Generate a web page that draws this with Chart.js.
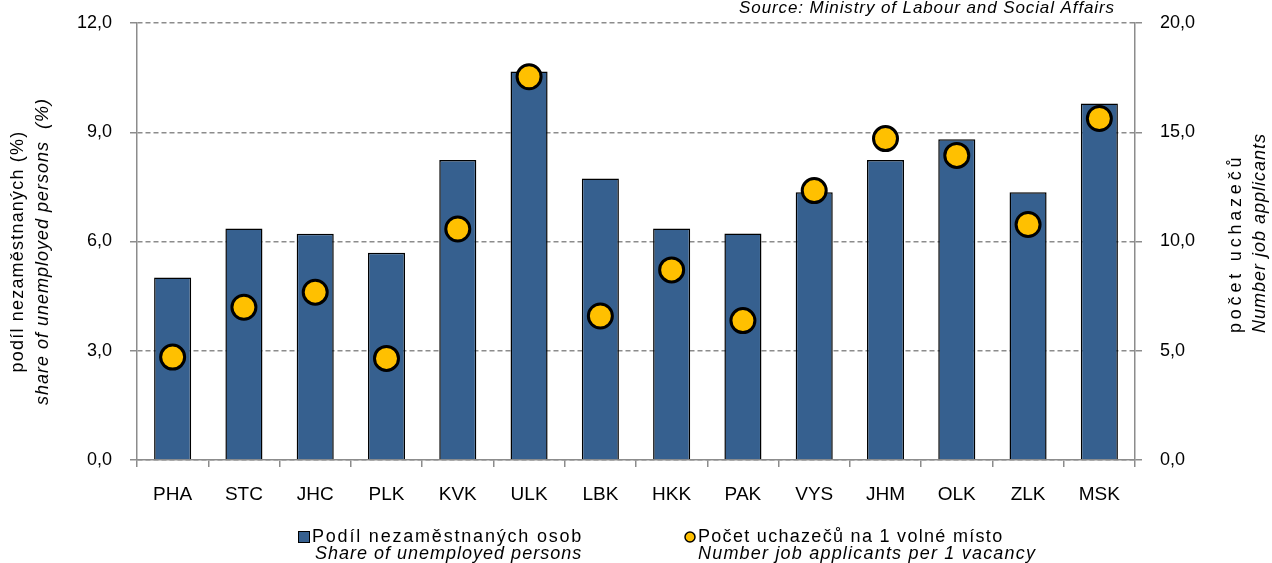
<!DOCTYPE html>
<html>
<head>
<meta charset="utf-8">
<script src="https://cdn.jsdelivr.net/npm/chart.js@4"></script>
<style>
html, body { margin: 0; padding: 0; background: #fff; }
#graf-box { width: 1272px; height: 563px; }
</style>
</head>
<body>
<div id="graf-box"><canvas id="graf"></canvas></div>
<script>
// data (kraje CR)
var kraje = ['PHA', 'STC', 'JHC', 'PLK', 'KVK', 'ULK', 'LBK', 'HKK', 'PAK', 'VYS', 'JHM', 'OLK', 'ZLK', 'MSK'];
var podilNezam = [5.01, 6.36, 6.21, 5.69, 8.24, 10.67, 7.73, 6.36, 6.22, 7.35, 8.24, 8.81, 7.35, 9.79];
var uchazeciNaMisto = [4.71, 6.99, 7.68, 4.65, 10.57, 17.54, 6.59, 8.70, 6.38, 12.33, 14.71, 13.94, 10.78, 15.63];

var osaLevo = [0, 12, 3];   // min, max, krok
var osaPravo = [0, 20, 5];

var pismo = '"Liberation Sans", Arial, sans-serif';
var seda = '#8c8c8c';

function formatCislo(v) {
	return Number(v).toFixed(1).replace('.', ',');
}

function text(ctx, t, x, y, font, mezera) {
	ctx.font = font;
	ctx.letterSpacing = mezera + 'px';
	ctx.fillText(t, x, y);
	ctx.letterSpacing = '0px';
}

// popisky os, zdroj a legenda
var popisky = {
	id: 'popisky',
	afterDraw: function(chart) {
		var ctx = chart.ctx;
		var a = chart.chartArea;
		ctx.save();
		ctx.fillStyle = '#000';

		// zdroj
		ctx.textAlign = 'right';
		ctx.textBaseline = 'middle';
		text(ctx, 'Source: Ministry of Labour and Social Affairs', a.right - 20, 8, 'italic 17px ' + pismo, 0.9);

		// leva osa
		ctx.save();
		ctx.translate(18, (a.top + a.bottom) / 2 + 10);
		ctx.rotate(-Math.PI / 2);
		ctx.textAlign = 'center';
		text(ctx, 'podíl nezaměstnaných (%)', 0, 0, '18px ' + pismo, 1.2);
		text(ctx, 'share of unemployed persons  (%)', 0, 25, 'italic 18px ' + pismo, 1);
		ctx.restore();

		// prava osa
		ctx.save();
		ctx.translate(1236, 333);
		ctx.rotate(-Math.PI / 2);
		ctx.textAlign = 'left';
		text(ctx, 'počet uchazečů', 0, 0, '18px ' + pismo, 3.8);
		text(ctx, 'Number job applicants', 0, 24, 'italic 18px ' + pismo, 1);
		ctx.restore();

		// legenda
		var ds = chart.data.datasets;
		ctx.textAlign = 'left';
		ctx.fillStyle = ds[1].backgroundColor;
		ctx.strokeStyle = '#000';
		ctx.lineWidth = 1;
		ctx.fillRect(298.5, 531.5, 11, 11);
		ctx.strokeRect(298.5, 531.5, 11, 11);
		ctx.fillStyle = '#000';
		text(ctx, ds[1].label, 312, 537, '18px ' + pismo, 1.8);
		text(ctx, 'Share of unemployed persons', 315, 554, 'italic 18px ' + pismo, 1);

		ctx.beginPath();
		ctx.arc(690, 537, 5, 0, Math.PI * 2);
		ctx.fillStyle = ds[0].backgroundColor;
		ctx.fill();
		ctx.lineWidth = 1.5;
		ctx.stroke();
		ctx.fillStyle = '#000';
		text(ctx, ds[0].label, 698, 537, '18px ' + pismo, 1.3);
		text(ctx, 'Number job applicants per 1 vacancy', 698, 554, 'italic 18px ' + pismo, 1.2);

		ctx.restore();
	}
};

function sirkaOsy(s) {
	s.width = 137;
	s.paddingTop = 0;
	s.paddingBottom = 0;
}

var ctx = document.getElementById('graf').getContext('2d');
var chart = new Chart(ctx, {
	type: 'bar',
	data: {
		labels: kraje,
		datasets: [{
			type: 'line',
			label: 'Počet uchazečů na 1 volné místo',
			data: uchazeciNaMisto,
			yAxisID: 'y1',
			showLine: false,
			backgroundColor: '#FFC000',
			borderColor: '#000',
			pointBackgroundColor: '#FFC000',
			pointBorderColor: '#000',
			pointBorderWidth: 3,
			pointRadius: 12,
			pointHoverRadius: 12,
			order: 1
		}, {
			type: 'bar',
			label: 'Podíl nezaměstnaných osob',
			data: podilNezam,
			yAxisID: 'y',
			backgroundColor: '#36608F',
			borderColor: '#000',
			borderWidth: 1.5,
			barPercentage: 0.52,
			categoryPercentage: 1,
			order: 2
		}]
	},
	options: {
		responsive: true,
		maintainAspectRatio: false,
		devicePixelRatio: 1,
		animation: false,
		layout: { padding: { top: 23, left: 0, right: 0, bottom: 0 } },
		plugins: {
			legend: { display: false },
			title: { display: false },
			tooltip: { enabled: false }
		},
		scales: {
			x: {
				grid: { display: true, drawOnChartArea: false, offset: true, tickLength: 7, color: seda, lineWidth: 1.5 },
				border: { color: seda, width: 1.5 },
				ticks: { color: '#000', font: { family: pismo, size: 19 }, padding: 16 },
				afterFit: function(s) { s.height = 103; s.paddingLeft = 0; s.paddingRight = 0; }
			},
			y: {
				position: 'left',
				min: osaLevo[0],
				max: osaLevo[1],
				ticks: { stepSize: osaLevo[2], color: '#000', font: { family: pismo, size: 18 }, padding: 18, callback: formatCislo },
				grid: { color: seda, lineWidth: 1.5, tickLength: 7 },
				border: { color: seda, width: 1.5, dash: [5, 3] },
				afterFit: sirkaOsy
			},
			y1: {
				position: 'right',
				min: osaPravo[0],
				max: osaPravo[1],
				ticks: { stepSize: osaPravo[2], color: '#000', font: { family: pismo, size: 18 }, padding: 18, callback: formatCislo },
				grid: { drawOnChartArea: false, color: seda, lineWidth: 1.5, tickLength: 7 },
				border: { color: seda, width: 1.5 },
				afterFit: sirkaOsy
			}
		}
	},
	plugins: [popisky]
});
</script>
</body>
</html>
